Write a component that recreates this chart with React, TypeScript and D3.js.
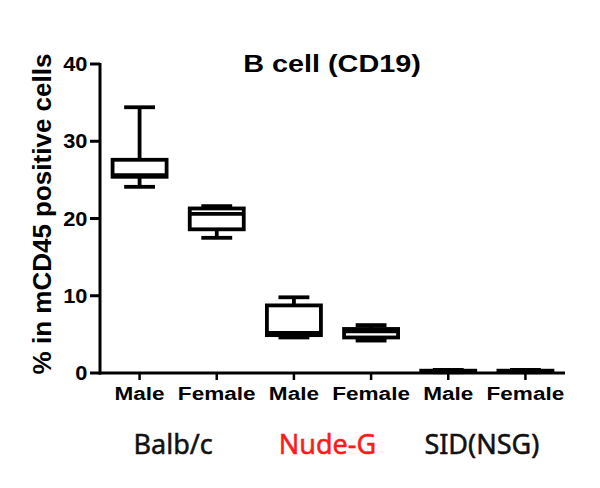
import React from "react";
import * as d3 from "d3";

const title = "B cell (CD19)";
const yLabel = "% in mCD45 positive cells";
const categories = ["Male", "Female", "Male", "Female", "Male", "Female"];
const groups = ["Balb/c", "Nude-G", "SID(NSG)"];
const groupColors = ["#111111", "#ff1a1a", "#111111"];
const mins = [24.1, 17.5, 4.6, 4.2, 0.1, 0.1];
const q1s = [25.4, 18.6, 4.9, 4.6, 0.2, 0.2];
const medians = [25.6, 20.6, 5.2, 5.4, 0.25, 0.25];
const q3s = [27.6, 21.3, 8.75, 5.7, 0.3, 0.3];
const maxs = [34.4, 21.6, 9.8, 6.2, 0.4, 0.4];
const yTicks = [0, 10, 20, 30, 40];

const W = 600;
const H = 488;

export default function App() {
  const y = d3.scaleLinear().domain([0, 40]).range([373, 64]);
  const ids = categories.map((_, i) => String(i));
  const x = d3.scaleBand<string>().domain(ids).range([101, 564]).padding(0);
  const bw = x.bandwidth();
  const boxW = bw * 0.7;
  const capW = bw * 0.4;
  const cx = (i: number) => (x(String(i)) as number) + bw / 2;
  const groupCenter = (g: number) => (cx(g * 2) + cx(g * 2 + 1)) / 2 - 5;
  const arial = "'Liberation Sans', Arial, sans-serif";
  const stroke = "#000";

  return (
    <svg
      width={W}
      height={H}
      viewBox={`0 0 ${W} ${H}`}
      style={{ position: "absolute", left: 0, top: 0, background: "#fff" }}
    >
      {/* title */}
      <text
        transform={`translate(332,72) scale(1.2,1)`}
        textAnchor="middle"
        fontFamily={arial}
        fontWeight="bold"
        fontSize={24}
        fill="#000"
      >
        {title}
      </text>

      {/* y axis */}
      <line x1={100} x2={100} y1={y(40) - 1} y2={y(0) + 1.5} stroke={stroke} strokeWidth={3} />
      {yTicks.map((t) => (
        <g key={t}>
          <line x1={90} x2={100} y1={y(t)} y2={y(t)} stroke={stroke} strokeWidth={3} />
          <text
            transform={`translate(87.5,${y(t) + 7}) scale(1.12,1)`}
            textAnchor="end"
            fontFamily={arial}
            fontWeight="bold"
            fontSize={19.5}
            fill="#000"
          >
            {t}
          </text>
        </g>
      ))}
      <text
        transform={`translate(50.5,214) rotate(-90)`}
        textAnchor="middle"
        fontFamily={arial}
        fontWeight="bold"
        fontSize={26}
        fill="#000"
      >
        {yLabel}
      </text>

      {/* x axis */}
      <line x1={98.5} x2={565} y1={y(0)} y2={y(0)} stroke={stroke} strokeWidth={3} />
      {categories.map((c, i) => (
        <g key={i}>
          <line x1={cx(i)} x2={cx(i)} y1={y(0)} y2={y(0) + 7} stroke={stroke} strokeWidth={2.5} />
          <text
            transform={`translate(${cx(i)},400) scale(1.22,1)`}
            textAnchor="middle"
            fontFamily={arial}
            fontWeight="bold"
            fontSize={18.5}
            fill="#000"
          >
            {c}
          </text>
        </g>
      ))}
      {groups.map((g, i) => (
        <text
          key={g}
          x={groupCenter(i)}
          y={454}
          textAnchor="middle"
          fontFamily="'Noto Sans', 'Open Sans', sans-serif"
          fontSize={27}
          fill={groupColors[i]}
          stroke={groupColors[i]}
          strokeWidth={0.5}
        >
          {g}
        </text>
      ))}

      {/* boxes */}
      {categories.map((_, i) => {
        const c = cx(i);
        return (
          <g key={"b" + i} stroke={stroke} strokeWidth={3.8} fill="none">
            <line x1={c} x2={c} y1={y(maxs[i])} y2={y(q3s[i])} />
            <line x1={c} x2={c} y1={y(q1s[i])} y2={y(mins[i])} />
            <line x1={c - capW / 2} x2={c + capW / 2} y1={y(maxs[i])} y2={y(maxs[i])} />
            <line x1={c - capW / 2} x2={c + capW / 2} y1={y(mins[i])} y2={y(mins[i])} />
            <rect
              x={c - boxW / 2}
              y={y(q3s[i])}
              width={boxW}
              height={Math.max(0, y(q1s[i]) - y(q3s[i]))}
              fill="#fff"
            />
            <line x1={c - boxW / 2} x2={c + boxW / 2} y1={y(medians[i])} y2={y(medians[i])} />
          </g>
        );
      })}
    </svg>
  );
}
